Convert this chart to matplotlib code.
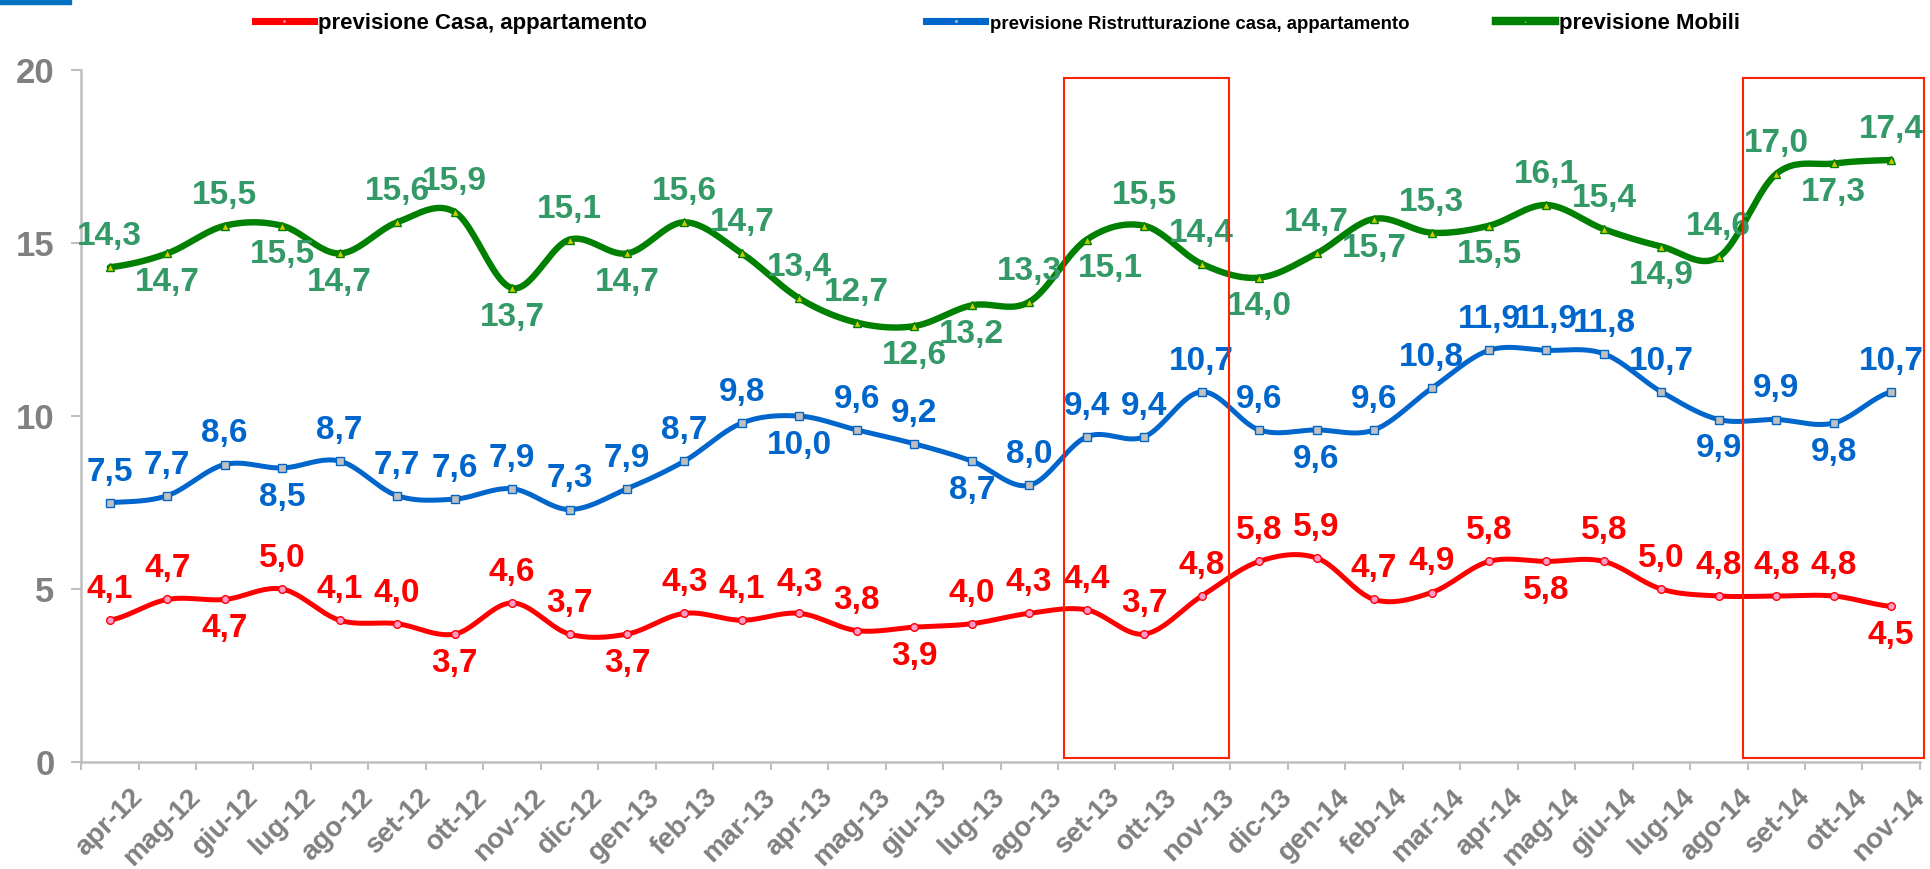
import numpy as np
import matplotlib
matplotlib.use("Agg")
import matplotlib.pyplot as plt
from matplotlib.lines import Line2D
from matplotlib.patches import Rectangle

plt.rcParams['font.family'] = ['Liberation Sans', 'DejaVu Sans']
plt.rcParams['font.weight'] = 'bold'

months = ['apr-12', 'mag-12', 'giu-12', 'lug-12', 'ago-12', 'set-12', 'ott-12', 'nov-12',
          'dic-12', 'gen-13', 'feb-13', 'mar-13', 'apr-13', 'mag-13', 'giu-13', 'lug-13',
          'ago-13', 'set-13', 'ott-13', 'nov-13', 'dic-13', 'gen-14', 'feb-14', 'mar-14',
          'apr-14', 'mag-14', 'giu-14', 'lug-14', 'ago-14', 'set-14', 'ott-14', 'nov-14']

casa = [4.1, 4.7, 4.7, 5.0, 4.1, 4.0, 3.7, 4.6, 3.7, 3.7, 4.3, 4.1, 4.3, 3.8, 3.9, 4.0,
        4.3, 4.4, 3.7, 4.8, 5.8, 5.9, 4.7, 4.9, 5.8, 5.8, 5.8, 5.0, 4.8, 4.8, 4.8, 4.5]
ristrutturazione = [7.5, 7.7, 8.6, 8.5, 8.7, 7.7, 7.6, 7.9, 7.3, 7.9, 8.7, 9.8, 10.0, 9.6, 9.2, 8.7,
                    8.0, 9.4, 9.4, 10.7, 9.6, 9.6, 9.6, 10.8, 11.9, 11.9, 11.8, 10.7, 9.9, 9.9, 9.8, 10.7]
mobili = [14.3, 14.7, 15.5, 15.5, 14.7, 15.6, 15.9, 13.7, 15.1, 14.7, 15.6, 14.7, 13.4, 12.7, 12.6, 13.2,
          13.3, 15.1, 15.5, 14.4, 14.0, 14.7, 15.7, 15.3, 15.5, 16.1, 15.4, 14.9, 14.6, 17.0, 17.3, 17.4]

# where each data label sits: A = above the point, B = below
casa_lab = "AABAAABAAB" + "AAAABAAAAA" + "AAAAABAAAA" + "AB"
ristr_lab = "AAABAAAAAA" + "AABAABAAAA" + "ABAAAAAABA" + "BA"
mobili_lab = "ABABBAABAB" + "AAAABBABAA" + "BABABAABAA" + "BA"
# hand-moved labels in the original (series, index) -> x nudge in points
label_nudge = {('mobili', 17): 17}

# highlighted periods (category index ranges)
boxes = [(16.6, 19.48), (28.42, 31.57)]


def smooth(y, steps=24):
    # excel-like smoothed line (bezier through the points)
    y = np.asarray(y, dtype=float)
    n = len(y)
    xs, ys = [], []
    for i in range(n - 1):
        p0 = y[i - 1] if i > 0 else y[i]
        p1, p2 = y[i], y[i + 1]
        p3 = y[i + 2] if i + 2 < n else y[i + 1]
        t = np.linspace(0, 1, steps, endpoint=False)
        c1 = p1 + (p2 - p0) / 6
        c2 = p2 - (p3 - p1) / 6
        b = (1 - t) ** 3 * p1 + 3 * (1 - t) ** 2 * t * c1 + 3 * (1 - t) * t ** 2 * c2 + t ** 3 * p2
        xs.extend(i + t)
        ys.extend(b)
    xs.append(n - 1)
    ys.append(y[-1])
    return np.array(xs), np.array(ys)


fig = plt.figure(figsize=(19.3, 8.69), dpi=100)
ax = fig.add_axes([0.042, 0.123, 0.9528, 0.7964])

series = [
    ('casa', casa, casa_lab, '#FF0000', '#FF0000', 'o', '#FF99CC', 3.6, 'previsione Casa, appartamento'),
    ('ristr', ristrutturazione, ristr_lab, '#0066CC', '#0066CC', 's', '#C0C0C0', 3.6, 'previsione Ristrutturazione casa, appartamento'),
    ('mobili', mobili, mobili_lab, '#008000', '#339966', '^', '#CCCC00', 4.6, 'previsione Mobili'),
]

x = np.arange(len(months))
handles = []
for key, vals, labpos, col, labcol, mk, mfc, lw, name in series:
    sx, sy = smooth(vals)
    ax.plot(sx, sy, color=col, lw=lw, solid_capstyle='round', zorder=3)
    ax.plot(x, vals, ls='none', marker=mk, ms=5.5, mfc=mfc, mec=col, mew=1, zorder=4)
    for xi, v, p in zip(x, vals, labpos):
        txt = f"{v:.1f}".replace('.', ',')
        off = 22 if p == 'A' else -21
        dx = label_nudge.get((key, xi), 0)
        ax.annotate(txt, (xi, v), xytext=(dx, off), textcoords='offset points',
                    ha='center', va='center', fontsize=24, color=labcol, fontweight='bold',
                    zorder=5)
    handles.append(Line2D([0], [0], color=col, lw=lw + 1.5, marker=mk, ms=3, mfc=mfc, mec=col))

for x0, x1 in boxes:
    ax.add_patch(Rectangle((x0, 0.12), x1 - x0, 19.65, fill=False, ec='#FF2200', lw=1.5,
                           clip_on=False, zorder=6))

ax.set_xlim(-0.5, len(months) - 0.5)
ax.set_ylim(0, 20)
ax.set_yticks([0, 5, 10, 15, 20])
# rotated labels sit a little right of the category centre, tick marks sit between categories
ax.set_xticks(x + 0.35)
ax.set_xticklabels(months, rotation=45, ha='right', rotation_mode='anchor',
                   fontsize=20, color='#808080', fontweight='bold')
ax.set_xticks(np.arange(-0.5, len(months), 1), minor=True)
ax.tick_params(axis='x', which='major', length=0, pad=16)
ax.tick_params(axis='x', which='minor', length=6, width=1.5, color='#BFBFBF')
ax.tick_params(axis='y', length=7, width=1.5, color='#BFBFBF', labelsize=25,
               labelcolor='#808080', pad=12)
for lab in ax.get_yticklabels():
    lab.set_fontweight('bold')

for s in ['top', 'right']:
    ax.spines[s].set_visible(False)
for s in ['left', 'bottom']:
    ax.spines[s].set_color('#BFBFBF')
    ax.spines[s].set_linewidth(1.8)

# legend entries are spaced unevenly in the original, so one legend each
legends = []
for h, s, lx in zip(handles, series, [0.132, 0.480, 0.775]):
    leg = fig.legend([h], [s[-1]], loc='center left', bbox_to_anchor=(lx, 0.973), frameon=False,
                     borderpad=0, borderaxespad=0, handlelength=2.65, handletextpad=0.2,
                     prop={'size': 16, 'weight': 'bold'})
    legends.append(leg)

# the long entry is squeezed in the original: shrink it so it ends before the next entry
fig.canvas.draw()
renderer = fig.canvas.get_renderer()
blue_txt = legends[1].get_texts()[0]
w = blue_txt.get_window_extent(renderer).width
target = 420.0
if w > target:
    blue_txt.set_fontsize(16 * target / w)

fig.add_artist(Rectangle((0, 1 - 4 / 869), 71 / 1930, 4 / 869, transform=fig.transFigure,
                         color='#0070C0'))

fig.savefig('out.png', dpi=100)
